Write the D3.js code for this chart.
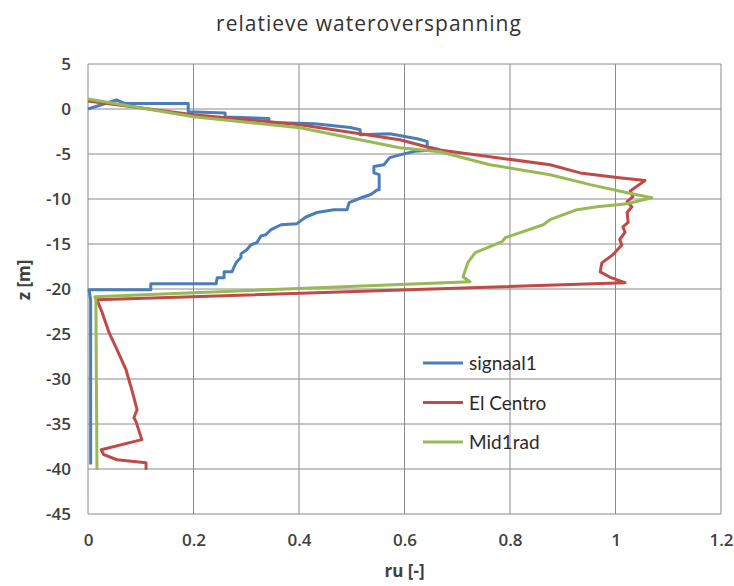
<!DOCTYPE html>
<html>
<head>
<meta charset="utf-8">
<script src="https://cdn.jsdelivr.net/npm/d3@7"></script>
<style>
  body { margin: 0; background: #fff; }
  svg { display: block; }
  svg text { font-family: "Open Sans", Lato, sans-serif; fill: #404040; }
  .chart-title { font-size: 21px; letter-spacing: 1px; fill: #333; }
  .axis-label { font-size: 17px; font-weight: 700; }
  .legend-text { font-family: Lato, sans-serif; font-size: 19px; fill: #2a2a2a; }
</style>
</head>
<body>
<div id="chart"></div>
<script>
// ru [-] versus depth z [m]
const signaal1 = [
  [0.0, 0.0], [0.054, 1.0], [0.07, 0.6], [0.19, 0.6], [0.19, -0.3],
  [0.26, -0.45], [0.26, -0.9], [0.343, -1.05], [0.343, -1.5], [0.43, -1.65],
  [0.497, -2.05], [0.516, -2.3], [0.516, -2.85], [0.572, -2.75], [0.624, -3.3],
  [0.643, -3.6], [0.643, -4.2], [0.665, -4.5], [0.62, -4.7], [0.591, -5.1],
  [0.572, -5.4], [0.561, -6.2], [0.542, -6.4], [0.542, -7.1], [0.552, -7.3],
  [0.552, -8.97], [0.548, -9.0], [0.536, -9.5], [0.518, -9.86], [0.495, -10.4],
  [0.491, -11.2], [0.466, -11.2], [0.434, -11.5], [0.413, -12.0], [0.396, -12.74],
  [0.366, -12.86], [0.347, -13.4], [0.337, -13.97], [0.328, -14.1], [0.32, -14.86],
  [0.309, -15.08], [0.301, -15.63], [0.29, -16.1], [0.29, -16.5], [0.282, -16.97],
  [0.278, -17.4], [0.273, -18.08], [0.258, -18.08], [0.258, -18.74], [0.245, -18.74],
  [0.243, -19.41], [0.119, -19.41], [0.119, -20.08], [0.002, -20.08],
  [0.005, -21.2], [0.005, -39.5]
];

const elCentro = [
  [0.0, 0.9], [0.2, -0.63], [0.402, -1.74], [0.591, -3.41], [0.663, -4.52],
  [0.762, -5.3], [0.876, -6.2], [0.933, -7.1], [1.003, -7.6], [1.056, -7.95],
  [1.028, -9.1], [1.033, -9.74], [1.022, -10.3], [1.031, -10.86], [1.022, -11.5],
  [1.024, -12.6], [1.014, -13.1], [1.018, -13.7], [1.008, -14.5], [1.012, -15.1],
  [0.995, -16.2], [0.974, -17.1], [0.971, -18.1], [0.99, -18.7], [1.018, -19.3],
  [0.017, -21.2], [0.027, -22.63], [0.04, -24.85], [0.055, -26.74], [0.072, -28.97],
  [0.083, -31.19], [0.093, -33.41], [0.087, -34.3], [0.091, -34.74], [0.102, -36.74],
  [0.025, -37.86], [0.03, -38.41], [0.055, -38.97], [0.11, -39.3], [0.11, -40.08]
];

const mid1rad = [
  [0.0, 1.1], [0.2, -0.86], [0.402, -2.08], [0.591, -4.3], [0.667, -4.75],
  [0.762, -6.2], [0.876, -7.3], [0.952, -8.4], [1.022, -9.3], [1.069, -9.86],
  [1.022, -10.52], [0.965, -10.86], [0.927, -11.19], [0.876, -12.3],
  [0.863, -12.86], [0.791, -14.3], [0.785, -14.74], [0.734, -15.97], [0.72, -17.08],
  [0.711, -18.63], [0.724, -19.19], [0.013, -20.86], [0.015, -21.2], [0.017, -40.1]
];

const seriesNames = ["signaal1", "El Centro", "Mid1rad"];
const seriesData = [signaal1, elCentro, mid1rad];
const xTicks = [0, 0.2, 0.4, 0.6, 0.8, 1, 1.2];
const yTicks = [5, 0, -5, -10, -15, -20, -25, -30, -35, -40, -45];

const COLORS = ["#4a7ebb", "#be4b48", "#98b954"];
const WIDTH = 734;
const HEIGHT = 586;
const MARGIN = { top: 64, right: 13, bottom: 72, left: 88 };

const innerWidth = WIDTH - MARGIN.left - MARGIN.right;
const innerHeight = HEIGHT - MARGIN.top - MARGIN.bottom;

const svg = d3.select("#chart")
  .append("svg")
  .attr("width", WIDTH)
  .attr("height", HEIGHT);

svg.append("text")
  .attr("class", "chart-title")
  .attr("x", 369)
  .attr("y", 31)
  .attr("text-anchor", "middle")
  .text("relatieve wateroverspanning");

const g = svg.append("g")
  .attr("transform", `translate(${MARGIN.left},${MARGIN.top})`);

const x = d3.scaleLinear().domain([0, 1.2]).range([0, innerWidth]);
const y = d3.scaleLinear().domain([-45, 5]).range([innerHeight, 0]);

// —— Grid ——
g.append("g")
  .selectAll("line")
  .data(xTicks)
  .join("line")
  .attr("x1", (d) => x(d)).attr("x2", (d) => x(d))
  .attr("y1", 0).attr("y2", innerHeight)
  .attr("stroke", "#8a8a8a")
  .attr("stroke-width", 1);

g.append("g")
  .selectAll("line")
  .data(yTicks)
  .join("line")
  .attr("x1", 0).attr("x2", innerWidth)
  .attr("y1", (d) => y(d)).attr("y2", (d) => y(d))
  .attr("stroke", "#8a8a8a")
  .attr("stroke-width", 1);

// —— Axes ——
function styleAxis(sel) {
  sel.select(".domain").remove();
  sel.attr("font-family", "Open Sans, Lato, sans-serif")
    .attr("font-size", 17)
    .attr("font-weight", 600);
  sel.selectAll(".tick text").attr("fill", "#454545");
}

g.append("g")
  .attr("transform", `translate(0,${innerHeight})`)
  .call(d3.axisBottom(x).tickValues(xTicks).tickSize(0).tickPadding(20).tickFormat((d) => String(d)))
  .call(styleAxis);

g.append("g")
  .call(d3.axisLeft(y).tickValues(yTicks).tickSize(0).tickPadding(17).tickFormat((d) => String(d)))
  .call(styleAxis);

g.append("text")
  .attr("class", "axis-label")
  .attr("transform", "rotate(-90)")
  .attr("x", -y(-19))
  .attr("y", -58)
  .attr("text-anchor", "middle")
  .text("z [m]");

g.append("text")
  .attr("class", "axis-label")
  .attr("x", x(0.6))
  .attr("y", innerHeight + 63)
  .attr("text-anchor", "middle")
  .text("ru [-]");

// —— Lines ——
const line = d3.line()
  .x((d) => x(d[0]))
  .y((d) => y(d[1]));

g.selectAll(".series")
  .data(seriesData)
  .join("path")
  .attr("class", "series")
  .attr("fill", "none")
  .attr("stroke", (d, i) => COLORS[i])
  .attr("stroke-width", 3)
  .attr("stroke-linejoin", "round")
  .attr("d", line);

// —— Legend ——
const legend = svg.append("g")
  .attr("transform", "translate(423, 363)");

const legendRow = legend.selectAll("g")
  .data(seriesNames)
  .join("g")
  .attr("transform", (d, i) => `translate(0, ${i * 39.5})`);

legendRow.append("line")
  .attr("x1", 0).attr("x2", 40)
  .attr("y1", 0).attr("y2", 0)
  .attr("stroke", (d, i) => COLORS[i])
  .attr("stroke-width", 3);

legendRow.append("text")
  .attr("class", "legend-text")
  .attr("x", 46)
  .attr("y", 7)
  .text((d) => d);
</script>
</body>
</html>
